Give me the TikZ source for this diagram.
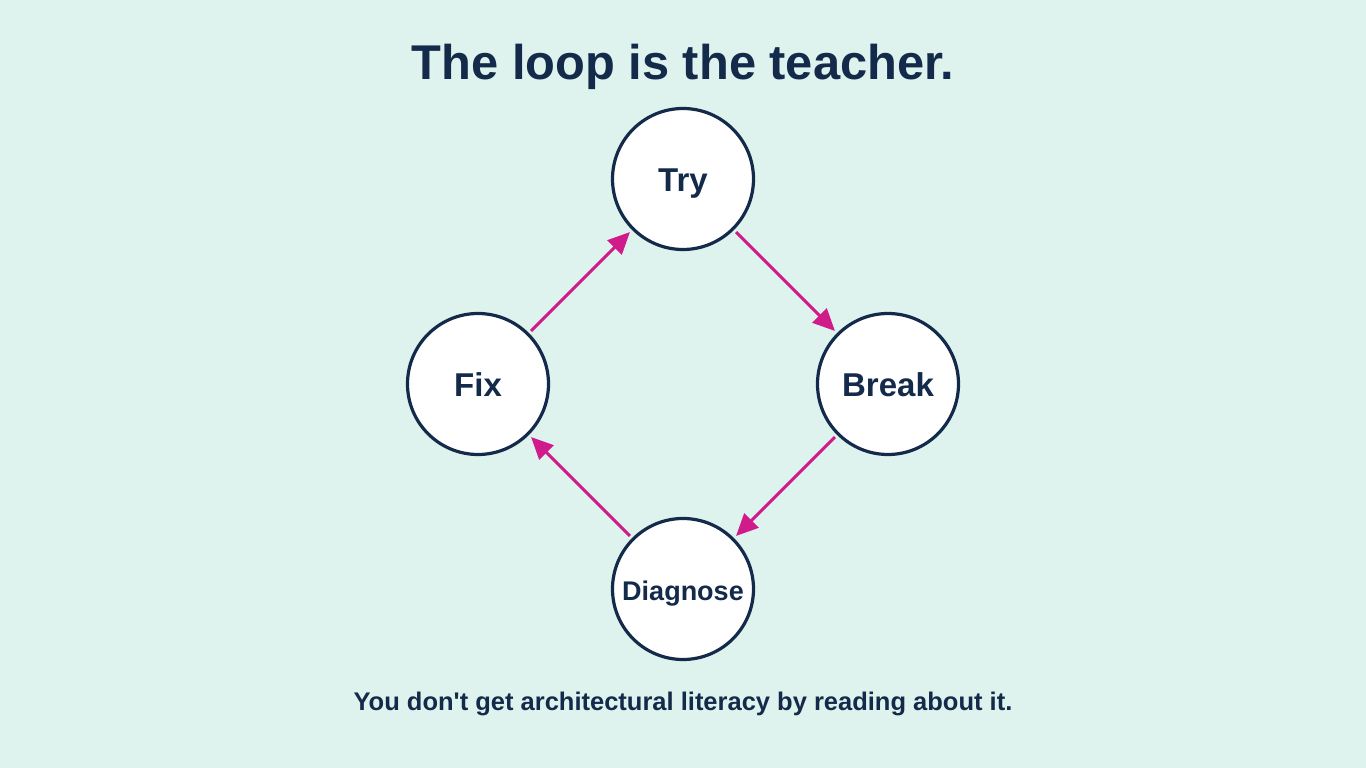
\documentclass[tikz,border=0pt]{standalone}
\usepackage{fontspec}
\setmainfont{Liberation Sans}
\usetikzlibrary{arrows.meta}
\definecolor{bg}{HTML}{DFF3EE}
\definecolor{navy}{HTML}{132A4A}
\definecolor{mag}{HTML}{D01C8B}
\tikzset{
  stage/.style={circle, draw=navy, line width=3.2pt, fill=white, minimum size=141pt, inner sep=0pt, outer sep=4.5pt, text=navy, text depth=0pt, font=\bfseries\fontsize{33}{36}\selectfont},
  flow/.style={draw=mag, line width=3pt, -{Triangle[length=22pt,width=20pt]}}
}
\begin{document}
\begin{tikzpicture}[x=1pt,y=1pt]
\fill[bg] (0,0) rectangle (1366,768);
\useasboundingbox (0,0) rectangle (1366,768);
\node[text=navy, font=\bfseries\fontsize{48.8}{56}\selectfont, anchor=base] (title) at (683,688) {The loop is the teacher.};
\node[stage] (try) at (683,589) {\raisebox{-2pt}{Try}};
\node[stage] (break) at (888,384) {\raisebox{-1pt}{Break}};
\node[stage] (diag) at (683,179) {\fontsize{27}{30}\selectfont\raisebox{-3pt}{Diagnose}};
\node[stage] (fix) at (478,384) {\raisebox{-1pt}{Fix}};
\draw[flow] (try.south east) -- (break.north west);
\draw[flow] (break.south west) -- (diag.north east);
\draw[flow] (diag.north west) -- (fix.south east);
\draw[flow] (fix.north east) -- (try.south west);
\node[text=navy, font=\bfseries\fontsize{25.5}{30}\selectfont, anchor=base] (sub) at (683,57) {You don\textquotesingle t get architectural literacy by reading about it.};
\end{tikzpicture}
\end{document}
